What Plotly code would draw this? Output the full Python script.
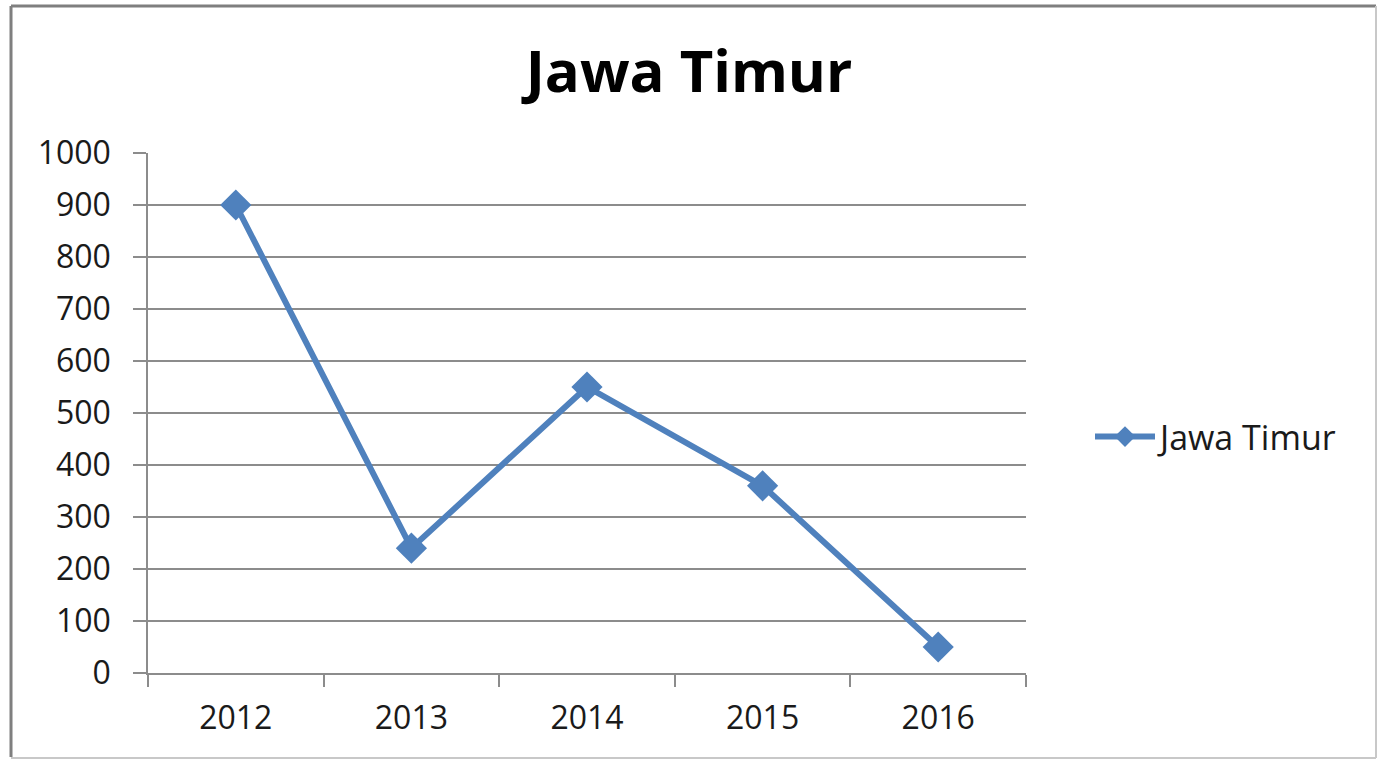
import plotly.graph_objects as go

years = ["2012", "2013", "2014", "2015", "2016"]
values = [900, 240, 550, 360, 50]
series_name = "Jawa Timur"
y_ticks = [0, 100, 200, 300, 400, 500, 600, 700, 800, 900, 1000]

W, H = 1378, 760
L, R, T, B = 148, 352, 153, 87
PW, PH = W - L - R, H - T - B

def px(x):
    return (x - L) / PW

def py(y):
    return (H - B - y) / PH

FONT = "Open Sans"
BLUE = "#4F81BD"
GRID = "#8C8C8C"
TXT = "#1a1a1a"

fig = go.Figure()
fig.add_trace(go.Scatter(
    x=years, y=values, name=series_name, mode="lines+markers",
    line=dict(color=BLUE, width=6),
    marker=dict(symbol="diamond", size=24, color=BLUE),
))

fig.update_layout(
    width=W, height=H,
    margin=dict(l=L, r=R, t=T, b=B),
    paper_bgcolor="white", plot_bgcolor="white",
    title=dict(text="<b>Jawa Timur</b>", x=0.5, xanchor="center",
               y=1 - 72 / H, yanchor="middle",
               font=dict(family=FONT, size=58, color="black")),
    showlegend=True,
    legend=dict(x=px(1090), xanchor="left", y=py(437), yanchor="middle",
                font=dict(family=FONT, size=34, color=TXT),
                itemwidth=60, bgcolor="rgba(0,0,0,0)"),
    xaxis=dict(type="category", range=[-0.5, 4.5], tickson="boundaries",
               ticks="outside", ticklen=12, tickcolor=GRID, tickwidth=1.5,
               showline=True, linecolor=GRID, linewidth=1.5,
               showgrid=False, zeroline=False,
               tickfont=dict(family=FONT, size=32, color=TXT),
               ticklabelstandoff=16),
    yaxis=dict(range=[0, 1000], tickvals=y_ticks,
               ticks="outside", ticklen=13, tickcolor=GRID, tickwidth=1.5,
               showline=True, linecolor=GRID, linewidth=1.5,
               showgrid=True, gridcolor=GRID, gridwidth=1.5,
               zeroline=False,
               tickfont=dict(family=FONT, size=32, color=TXT),
               ticklabelstandoff=16),
    shapes=[
        dict(type="line", xref="paper", yref="paper",
             x0=px(11), x1=px(11), y0=py(757), y1=py(6),
             line=dict(color="#7F7F7F", width=3)),
        dict(type="line", xref="paper", yref="paper",
             x0=px(11), x1=px(1376), y0=py(6), y1=py(6),
             line=dict(color="#7F7F7F", width=3)),
        dict(type="line", xref="paper", yref="paper",
             x0=px(1376), x1=px(1376), y0=py(6), y1=py(758),
             line=dict(color="#C8C8C8", width=2)),
        dict(type="line", xref="paper", yref="paper",
             x0=px(11), x1=px(1376), y0=py(758), y1=py(758),
             line=dict(color="#C8C8C8", width=2)),
    ],
)

fig.write_html("out.html", config={"displayModeBar": False},
               post_script="document.body.style.margin='0';document.body.style.overflow='hidden';")
